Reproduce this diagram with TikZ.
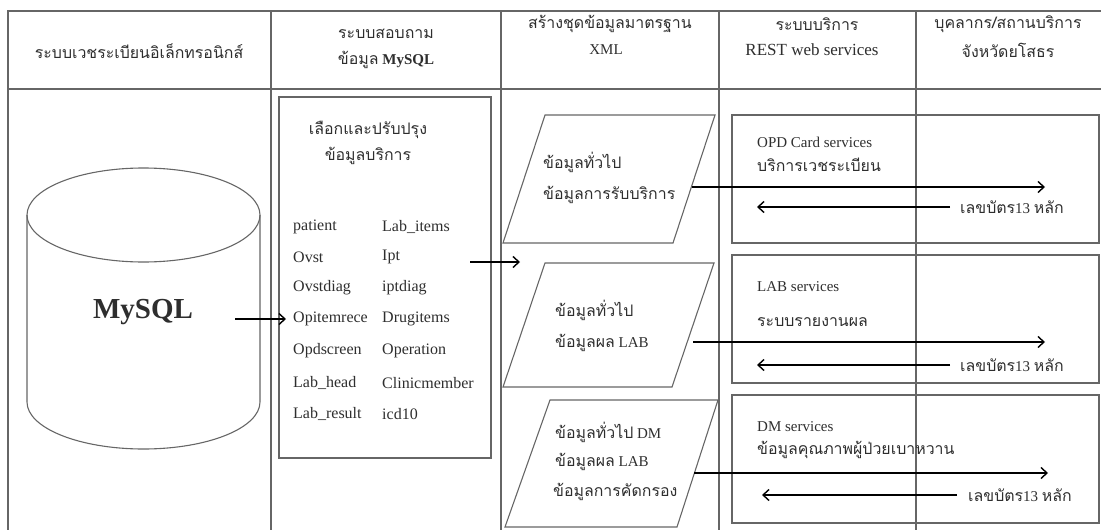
\documentclass[tikz,border=0pt]{standalone}
\usepackage{fontspec}
\setmainfont{Liberation Serif}
\newfontfamily\thaifont[Script=Thai,Scale=1.06]{Loma}
\usetikzlibrary{arrows.meta,positioning}

\newcommand{\tht}[1]{{\thaifont #1}}

\tikzset{
	grid line/.style={draw=black!60, line width=1.2pt},
	box line/.style={draw=black!60, line width=1.1pt},
	flow/.style={line width=1.4pt, -{Straight Barb[length=6pt,width=11pt,line width=1.4pt]}},
	txt/.style={text=black!82, inner sep=0pt, anchor=west, font=\fontsize{15}{17}\selectfont},
	head/.style={text=black!82, inner sep=0pt, font=\fontsize{15}{17}\selectfont},
	list/.style={txt, font=\fontsize{16}{18}\selectfont},
}

\begin{document}
\begin{tikzpicture}[x=1pt,y=-1pt]
			%\draw[help lines,step=50] (0,0) grid (1101,530);
			\useasboundingbox (0,0) rectangle (1101,530);

			\draw[grid line] (1101,11) -- (8,11) -- (8,530);
			\draw[grid line] (8,89) -- (1101,89);
			\draw[grid line] (271,11) -- (271,530);
			\draw[grid line] (501,11) -- (501,530);
			\draw[grid line] (719,11) -- (719,530);
			\draw[grid line] (916,11) -- (916,530);

			\node[head] (h1)  at (139,51) {\tht{ระบบเวชระเบียนอิเล็กทรอนิกส์}};
			\node[head] (h2a) at (386,34) {\tht{ระบบสอบถาม}};
			\node[head] (h2b) at (386,60) {\tht{ข้อมูล} \textbf{MySQL}};
			\node[head] (h3a) at (610,24) {\tht{สร้างชุดข้อมูลมาตรฐาน}};
			\node[head] (h3b) at (606,50) {XML};
			\node[head] (h4a) at (817,24) {\tht{ระบบบริการ}};
			\node[head, font=\fontsize{17}{19}\selectfont] (h4b) at (812,50) {REST web services};
			\node[head] (h5a) at (1008,24) {\tht{บุคลากร/สถานบริการ}};
			\node[head] (h5b) at (1008,50) {\tht{จังหวัดยโสธร}};

			\draw[box line] (27,215) -- (27,402) arc[start angle=180, end angle=360, x radius=116.5pt, y radius=47pt] -- (260,215);
			\draw[box line] (143.5,215) ellipse [x radius=116.5pt, y radius=47pt];
			\node[head, font=\fontsize{29}{31}\selectfont\bfseries] (mysql) at (143,312) {MySQL};

			\draw[box line] (279,97) rectangle (491,458);
			\node[head] (sel1) at (368,130) {\tht{เลือกและปรับปรุง}};
			\node[head] (sel2) at (368,156) {\tht{ข้อมูลบริการ}};

			\node[list] (patient)   at (293,227) {patient};
			\node[list] (ovst)      at (293,257) {Ovst};
			\node[list] (ovstdiag)  at (293,288) {Ovstdiag};
			\node[list] (opitem)    at (293,319) {Opitemrece};
			\node[list] (opdscreen) at (293,351) {Opdscreen};
			\node[list] (labhead)   at (293,383) {Lab\_head};
			\node[list] (labresult) at (293,414) {Lab\_result};
			\node[list] (labitems)  at (382,227) {Lab\_items};
			\node[list] (ipt)       at (382,257) {Ipt};
			\node[list] (iptdiag)   at (382,288) {iptdiag};
			\node[list] (drugitems) at (382,319) {Drugitems};
			\node[list] (operation) at (382,351) {Operation};
			\node[list] (clinic)    at (382,383) {Clinicmember};
			\node[list] (icd)       at (382,414) {icd10};

			\coordinate (dbout) at (235,319);
			\draw[flow, shorten >=7pt] (dbout) -- (opitem.west);

			\coordinate (listout) at (470,262);
			\coordinate (xmlin) at (520,262);
			\draw[flow] (listout) -- (xmlin);

			\draw[box line] (545,115) -- (715,115) -- (673,243) -- (503,243) -- cycle;
			\draw[box line] (545,263) -- (714,263) -- (672,387) -- (503,387) -- cycle;
			\draw[box line] (550,400) -- (718,400) -- (677,527) -- (505,527) -- cycle;

			\node[txt] (x1a) at (543,162) {\tht{ข้อมูลทั่วไป}};
			\node[txt] (x1b) at (543,195) {\tht{ข้อมูลการรับบริการ}};
			\node[txt] (x2a) at (555,310) {\tht{ข้อมูลทั่วไป}};
			\node[txt] (x2b) at (555,343) {\tht{ข้อมูลผล} LAB};
			\node[txt] (x3a) at (555,432) {\tht{ข้อมูลทั่วไป} DM};
			\node[txt] (x3b) at (555,462) {\tht{ข้อมูลผล} LAB};
			\node[txt] (x3c) at (553,492) {\tht{ข้อมูลการคัดกรอง}};

			\draw[box line] (732,115) rectangle (1099,243);
			\draw[box line] (732,255) rectangle (1099,383);
			\draw[box line] (732,395) rectangle (1099,523);

			\node[txt] (s1a) at (757,142) {OPD Card services};
			\node[txt] (s1b) at (757,165) {\tht{บริการเวชระเบียน}};
			\node[txt] (s2a) at (757,287) {LAB services};
			\node[txt] (s2b) at (757,322) {\tht{ระบบรายงานผล}};
			\node[txt] (s3a) at (757,427) {DM services};
			\node[txt] (s3b) at (757,450) {\tht{ข้อมูลคุณภาพผู้ป่วยเบาหวาน}};

			\coordinate (x1out) at (692,187);
			\coordinate (s1in) at (1045,187);
			\draw[flow] (x1out) -- (s1in);
			\coordinate (x2out) at (693,342);
			\coordinate (s2in) at (1045,342);
			\draw[flow] (x2out) -- (s2in);
			\coordinate (x3out) at (694,473);
			\coordinate (s3in) at (1048,473);
			\draw[flow] (x3out) -- (s3in);

			\node[txt] (id1) at (960,207) {\tht{เลขบัตร}13 \tht{หลัก}};
			\node[txt] (id2) at (960,365) {\tht{เลขบัตร}13 \tht{หลัก}};
			\node[txt] (id3) at (968,495) {\tht{เลขบัตร}13 \tht{หลัก}};
			\coordinate (s1back) at (757,207);
			\coordinate (s2back) at (757,365);
			\coordinate (s3back) at (762,495);
			\draw[flow, shorten <=10pt] (id1.west) -- (s1back);
			\draw[flow, shorten <=10pt] (id2.west) -- (s2back);
			\draw[flow, shorten <=11pt] (id3.west) -- (s3back);
		\end{tikzpicture}
\end{document}
